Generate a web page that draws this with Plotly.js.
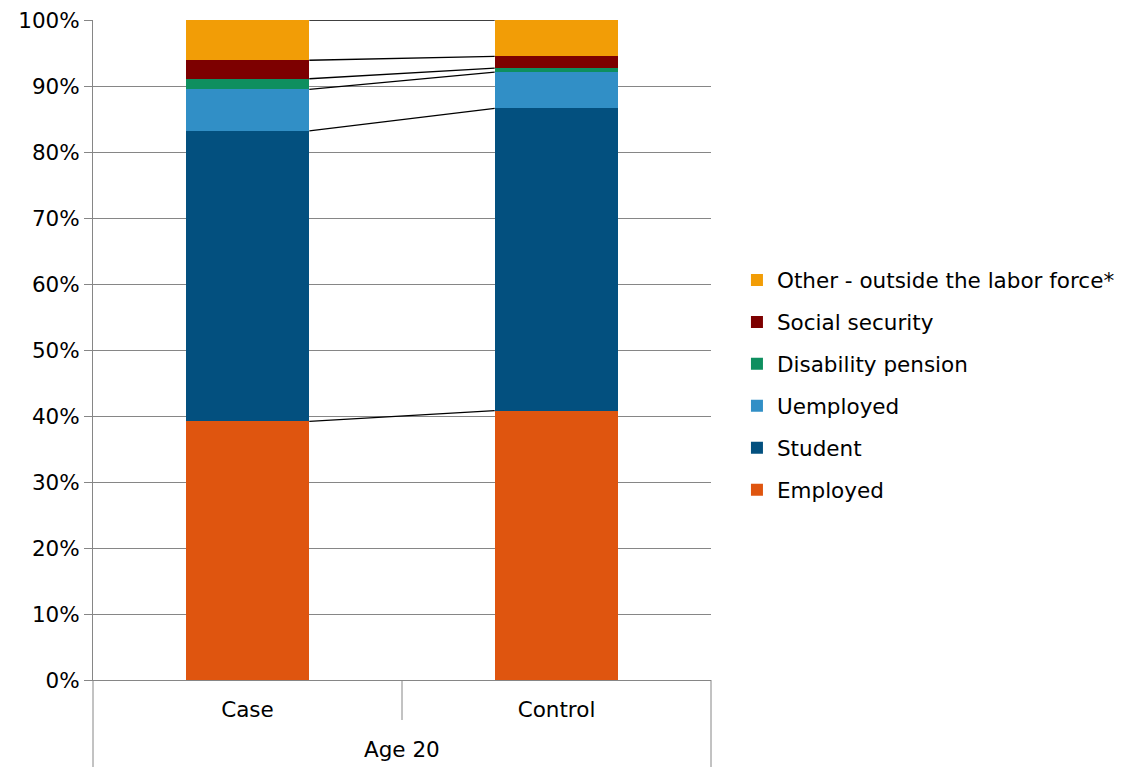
<!DOCTYPE html>
<html>
<head>
<meta charset="utf-8">
<script src="https://cdn.plot.ly/plotly-3.0.1.min.js"></script>
<style>html,body{margin:0;padding:0;background:#fff;}#chart{width:1126px;height:767px;}</style>
</head>
<body>
<div id="chart"></div>
<script>
// Data (percent)
const groupLabel = "Age 20";
const categories = ["Case", "Control"];
const seriesNames = ["Employed", "Student", "Uemployed", "Disability pension", "Social security", "Other - outside the labor force*"];
const employed = [39.2, 40.8];
const student = [44.0, 45.8];
const unemployed = [6.3, 5.5];
const disability = [1.6, 0.6];
const socialSecurity = [2.8, 1.8];
const other = [6.1, 5.5];
const colors = ["#DF550F", "#03507F", "#318FC6", "#0E8F5F", "#7D0000", "#F29D06"];

const series = [employed, student, unemployed, disability, socialSecurity, other];
const FONT = "DejaVu Sans, Verdana, sans-serif";
const FS = 21.5;
const BARW = 0.4;
const AXC = "#868686";

const traces = series.map((vals, i) => ({
  type: "bar",
  name: seriesNames[i],
  x: categories,
  y: vals,
  width: BARW,
  marker: {color: colors[i], line: {width: 0}},
  legendgroup: "g" + i,
  legendrank: series.length - i,
  hoverinfo: "name+y"
}));

// connector lines between cumulative tops
const cx = [], cy = [];
let cum = categories.map(() => 0);
series.forEach(vals => {
  cum = cum.map((c, j) => c + vals[j]);
  cx.push(0 + BARW / 2, 1 - BARW / 2, null);
  cy.push(cum[0], cum[1], null);
});
traces.push({
  type: "scatter", mode: "lines", x: cx, y: cy, xaxis: "x2", cliponaxis: false,
  line: {color: "#000000", width: 1.3}, showlegend: false, hoverinfo: "skip"
});

const layout = {
  width: 1126, height: 767,
  margin: {l: 93, r: 415, t: 20, b: 87, autoexpand: false},
  paper_bgcolor: "#ffffff", plot_bgcolor: "#ffffff",
  font: {family: FONT, size: FS, color: "#000000"},
  barmode: "stack",
  showlegend: true,
  legend: {
    x: 1.042, xanchor: "left", y: 0.447, yanchor: "middle",
    traceorder: "grouped", tracegroupgap: 11,
    font: {family: FONT, size: FS, color: "#000000"},
    itemclick: false
  },
  xaxis: {
    type: "category",
    showline: true, linecolor: AXC, linewidth: 1,
    ticks: "", ticklabelstandoff: 10,
    showgrid: false,
    tickfont: {family: FONT, size: FS, color: "#000000"},
    range: [-0.5, 1.5]
  },
  xaxis2: {
    overlaying: "x", range: [-0.5, 1.5], visible: false, showgrid: false, zeroline: false
  },
  yaxis: {
    range: [0, 100], dtick: 10, ticksuffix: "%",
    showgrid: true, gridcolor: AXC, gridwidth: 1,
    showline: true, linecolor: AXC, linewidth: 1,
    ticks: "outside", ticklen: 8, tickcolor: AXC,
    zeroline: false,
    tickfont: {family: FONT, size: FS, color: "#000000"}
  },
  annotations: [
    {text: groupLabel, xref: "x2", yref: "paper", x: 0.5, y: -0.106, yanchor: "middle",
     showarrow: false, font: {family: FONT, size: FS, color: "#000000"}}
  ],
  shapes: [
    {type: "line", xref: "x2", yref: "paper", x0: 0.5, x1: 0.5, y0: 0, y1: -0.0606,
     line: {color: AXC, width: 1}},
    {type: "line", xref: "paper", yref: "paper", x0: 0, x1: 0, y0: 0, y1: -0.1318,
     line: {color: AXC, width: 1}},
    {type: "line", xref: "paper", yref: "paper", x0: 1, x1: 1, y0: 0, y1: -0.1318,
     line: {color: AXC, width: 1}}
  ]
};

Plotly.newPlot("chart", traces, layout, {displayModeBar: false, staticPlot: true});
</script>
</body>
</html>
